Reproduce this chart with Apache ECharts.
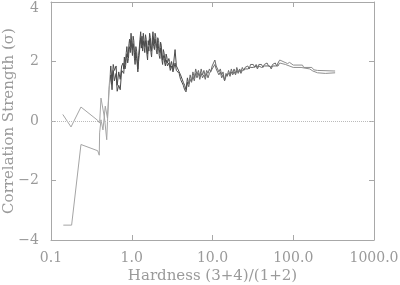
<!DOCTYPE html>
<html><head><meta charset="utf-8">
<script src="https://cdn.jsdelivr.net/npm/echarts@6/dist/echarts.min.js"></script>
<style>html,body{margin:0;padding:0;background:#fff}#c{width:400px;height:285px}</style>
</head><body><div id="c"></div>
<script>
// Low-hardness part of each trace
const hardLeftA = [0.14,0.177,0.235,0.379,0.40,0.416,0.46,0.49,0.52];
const sigLeftA  = [0.22,-0.2,0.47,0.02,-0.07,0.77,0.1,-0.63,1.05];
const hardLeftB = [0.142,0.18,0.235,0.379,0.396,0.40,0.416,0.44,0.47,0.50,0.53];
const sigLeftB  = [-3.5,-3.5,-0.79,-1.0,-1.15,-0.4,0.04,-0.3,0.5,0.1,1.2];
// Shared hardness samples in the dense middle part
const hardMid = [0.55,0.57,0.59,0.61,0.64,0.66,0.69,0.72,0.75,
0.78,0.795,0.81,0.825,0.84,0.855,0.87,0.89,0.91,0.925,0.94,0.96,0.98,1.00,1.02,1.04,1.06,1.08,1.10,1.125,1.15,1.17,1.19,1.215,1.24,1.265,1.29,1.315,1.34,1.365,1.39,1.42,1.45,1.48,1.51,1.54,1.57,1.60,1.63,1.665,1.70,1.73,1.76,1.795,1.83,1.87,1.91,1.945,1.98,2.02,2.06,2.10,2.15,2.19,2.23,2.275,2.32,2.365,2.41,2.46,2.51,2.56,2.61,2.665,2.72,2.77,2.82,2.88,2.94,3.00,3.05,3.11,3.18,3.24,3.30,
3.44,3.57,3.72,3.86,4.02,4.18,4.35,4.52,4.70,4.89,5.08,5.29,5.50,5.72,5.95,6.19,6.43,6.69,6.96,7.24,7.53,7.83,8.14,8.47,8.80,9.16,9.52,9.90,10.3,10.7,11.1,11.6,12.0,12.5,13.0,13.5,14.1,14.7,15.2,15.8,16.5,17.1,17.8,18.5,19.3,20.0,20.8,21.7,22.5,23.4,24.4,25.3,26.3,27.4,28.5,29.6,30.8,32.0,33.3,34.7,36.0,37.5,39.0,40.5,42.1,43.8,45.6,47.4,49.3,51.2,53.3,55.4,57.6,59.9,62.3,64.8];
const sigMidA = [1.85,1.30,1.90,1.70,1.85,1.20,1.65,1.40,1.85,
1.95,1.75,2.15,1.90,2.05,2.30,2.50,2.15,2.35,2.60,2.75,2.50,2.95,2.65,2.40,2.85,2.70,2.30,2.05,2.50,2.35,2.05,1.75,2.20,2.45,2.75,3.00,2.60,2.85,2.55,2.95,2.70,2.50,2.90,2.75,2.40,2.25,2.70,2.55,2.95,2.80,2.50,2.35,2.75,3.00,2.70,2.60,2.95,2.85,2.55,2.45,2.80,2.70,2.40,2.30,2.65,2.55,2.20,2.05,2.40,2.30,2.10,2.00,2.25,2.15,1.95,1.90,2.10,2.00,1.80,1.85,2.00,1.95,1.75,1.80,
2.40,1.85,1.75,1.80,1.55,1.60,1.30,1.20,1.05,1.45,1.25,1.55,1.35,1.65,1.45,1.75,1.55,1.70,1.50,1.75,1.55,1.70,1.50,1.70,1.60,1.75,1.65,1.85,1.80,2.05,1.85,1.80,1.65,1.75,1.55,1.65,1.35,1.60,1.50,1.70,1.55,1.75,1.60,1.75,1.60,1.80,1.65,1.75,1.65,1.80,1.70,1.80,1.75,1.85,1.75,1.90,1.85,1.90,1.80,1.90,1.80,1.90,1.85,1.90,1.80,1.90,1.85,1.95,1.85,1.90,1.80,1.90,1.85,1.95,1.85,1.95];
const sigMidB = [1.55,1.05,1.70,1.35,1.60,1.00,1.20,1.05,1.70,
1.75,1.60,1.90,1.75,1.85,2.10,2.25,1.95,2.10,2.40,2.50,2.30,2.70,2.45,2.20,2.60,2.45,2.10,1.90,2.30,2.10,1.90,1.65,2.00,2.25,2.55,2.80,2.45,2.65,2.35,2.70,2.50,2.30,2.70,2.55,2.25,2.05,2.50,2.35,2.75,2.55,2.30,2.15,2.55,2.80,2.50,2.40,2.75,2.60,2.35,2.25,2.60,2.45,2.20,2.10,2.45,2.35,2.05,1.90,2.20,2.10,1.95,1.85,2.05,1.95,1.85,1.80,1.95,1.85,1.70,1.75,1.85,1.80,1.65,1.70,
1.95,1.70,1.65,1.60,1.40,1.45,1.20,1.05,0.98,1.30,1.15,1.40,1.30,1.50,1.35,1.60,1.45,1.60,1.40,1.60,1.45,1.55,1.40,1.60,1.45,1.60,1.55,1.75,1.70,1.90,1.75,1.70,1.55,1.65,1.45,1.55,1.35,1.50,1.45,1.60,1.50,1.65,1.55,1.65,1.55,1.70,1.60,1.70,1.60,1.70,1.65,1.75,1.70,1.75,1.70,1.80,1.80,1.80,1.75,1.85,1.75,1.85,1.80,1.80,1.75,1.85,1.80,1.85,1.80,1.85,1.75,1.85,1.80,1.85,1.80,1.85];
// High-hardness tails
const hardTailA = [68,85,90,100,130,135,170,180,200,330];
const sigTailA  = [2.05,1.93,1.97,1.88,1.88,1.80,1.80,1.72,1.70,1.68];
const hardTailB = [68,80,100,125,130,160,175,200,250,330];
const sigTailB  = [1.95,1.90,1.80,1.80,1.75,1.75,1.68,1.62,1.60,1.62];
const xTicks = [0.1, 1, 10, 100, 1000];
const yTicks = [-4, -2, 0, 2, 4];

const pair = (xs, ys) => xs.map((x, i) => [x, ys[i]]);
const dataA = pair(hardLeftA, sigLeftA).concat(pair(hardMid, sigMidA), pair(hardTailA, sigTailA));
const dataB = pair(hardLeftB, sigLeftB).concat(pair(hardMid, sigMidB), pair(hardTailB, sigTailB));

const txt = '#9a9a9a', ln = '#a8a8a8';
const font = 'DejaVu Serif';
const chart = echarts.init(document.getElementById('c'), null, {renderer: 'canvas'});
const xCommon = {
  type: 'log', logBase: 10, min: xTicks[0], max: xTicks[xTicks.length - 1],
  axisLine: {onZero: false, lineStyle: {color: ln, width: 1}},
  axisTick: {inside: true, length: 5, lineStyle: {color: ln}},
  splitLine: {show: false}, minorTick: {show: false}
};
const yCommon = {
  type: 'value', min: yTicks[0], max: yTicks[yTicks.length - 1], interval: 2,
  axisLine: {show: true, onZero: false, lineStyle: {color: ln, width: 1}},
  axisTick: {show: true, inside: true, length: 5, lineStyle: {color: ln}},
  splitLine: {show: false}
};
chart.setOption({
  animation: false,
  backgroundColor: '#fff',
  grid: {left: 51, right: 26, top: 2, bottom: 45, containLabel: false, outerBoundsMode: 'none'},
  visualMap: {
    type: 'piecewise', show: false, dimension: 0, seriesIndex: [0, 1],
    pieces: [
      {lt: 0.545, color: '#a4a4a4'},
      {gte: 0.545, lt: 5, color: '#4a4a4a'},
      {gte: 5, lt: 66, color: '#6a6a6a'},
      {gte: 66, color: '#8e8e8e'}
    ]
  },
  xAxis: [
    Object.assign({}, xCommon, {
      position: 'bottom',
      name: 'Hardness (3+4)/(1+2)', nameLocation: 'middle', nameGap: 29, nameMoveOverlap: false,
      nameTextStyle: {color: txt, fontFamily: font, fontSize: 15},
      axisLabel: {color: txt, fontFamily: font, fontSize: 14, margin: 11,
        formatter: v => Number(v).toFixed(1)}
    }),
    Object.assign({}, xCommon, {position: 'top', axisLabel: {show: false}})
  ],
  yAxis: [
    Object.assign({}, yCommon, {
      position: 'left',
      name: 'Correlation Strength (σ)', nameLocation: 'middle', nameGap: 34, nameMoveOverlap: false,
      nameTextStyle: {color: txt, fontFamily: font, fontSize: 15},
      axisLabel: {color: txt, fontFamily: font, fontSize: 14, margin: 12,
        formatter: v => (v === yTicks[yTicks.length - 1] ? '{top|' + v + '}' :
          (v < 0 ? '\u2212' + Math.abs(v) : String(v))),
        rich: {top: {color: txt, fontFamily: font, fontSize: 14, padding: [12, 0, 0, 0]}}}
    }),
    Object.assign({}, yCommon, {position: 'right', axisLabel: {show: false}})
  ],
  series: [
    {type: 'line', data: dataA, symbol: 'none', lineStyle: {width: 1},
     markLine: {silent: true, symbol: 'none', label: {show: false},
       lineStyle: {color: '#bbb', type: 'dotted', width: 1}, data: [{yAxis: 0}]}},
    {type: 'line', data: dataB, symbol: 'none', lineStyle: {width: 1}}
  ]
});
</script></body></html>
